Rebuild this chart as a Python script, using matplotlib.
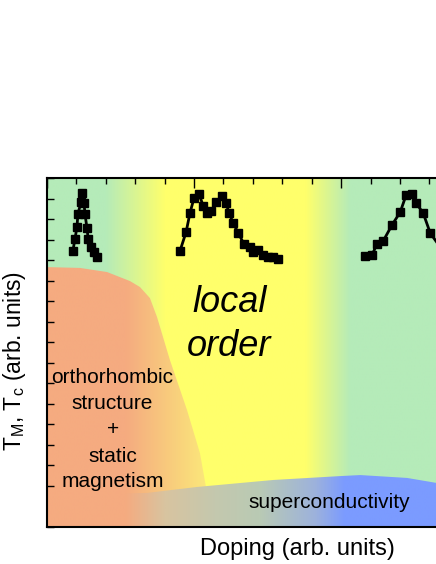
import numpy as np
import matplotlib
matplotlib.use("Agg")
import matplotlib.pyplot as plt
from matplotlib.colors import LinearSegmentedColormap
from matplotlib.patches import Polygon
from matplotlib.ticker import MultipleLocator

plt.rcParams['font.family'] = ['Liberation Sans', 'DejaVu Sans']

# ---- data (arb. units) ----
peak1_x = [0.88, 0.95, 1.02, 1.05, 1.16, 1.19, 1.26, 1.29, 1.36, 1.40, 1.50, 1.60, 1.70]
peak1_y = [13.44, 14.03, 14.61, 15.25, 15.83, 16.27, 15.78, 15.25, 14.56, 14.03, 13.64, 13.40, 13.15]

peak2_x = [4.52, 4.73, 4.86, 5.00, 5.17, 5.31, 5.44, 5.58, 5.75, 5.95, 6.09, 6.19, 6.33,
           6.50, 6.70, 6.90, 7.01, 7.18, 7.35, 7.52, 7.69, 7.86]
peak2_y = [13.44, 14.37, 15.29, 16.03, 16.22, 15.64, 15.29, 15.39, 15.83, 16.12, 15.78, 15.29, 14.81,
           14.32, 13.78, 13.64, 13.40, 13.49, 13.25, 13.15, 13.15, 13.05]

peak3_x = [10.82, 11.05, 11.22, 11.43, 11.73, 12.01, 12.21, 12.41, 12.55, 12.79, 13.03, 13.44]
peak3_y = [13.20, 13.25, 13.78, 13.93, 14.71, 15.34, 16.17, 16.22, 15.78, 15.29, 14.32, 13.49]

ortho_x = [0.0, 1.12, 2.04, 2.82, 3.16, 3.50, 3.74, 4.18, 4.76, 5.20, 5.44, 5.61]
ortho_y = [12.66, 12.62, 12.42, 11.98, 11.69, 11.15, 10.23, 8.13, 5.70, 3.60, 1.66, 0.0]

sc_x = [0.0, 3.40, 5.10, 7.69, 9.97, 10.65, 12.24, 13.27, 17.0]
sc_y = [1.56, 1.66, 1.95, 2.29, 2.48, 2.53, 2.39, 2.14, 1.56]

ortho_lines = ['orthorhombic', 'structure', '+', 'static', 'magnetism']

XMAX, YMAX = 17, 17

green = '#b5ebb9'
yellow = '#ffff6b'
orange = '#f5ab80'
blue = '#7b9bff'

bg_stops = [(0, green), (1.97, green), (4.0, yellow), (8.78, yellow), (10.3, green), (17, green)]
ortho_stops = [(0, orange), (2.65, orange), (5.3, '#fbe57a'), (17, '#fbe57a')]
sc_stops = [(0, orange), (2.65, orange), (4.0, '#d8c4a0'), (5.7, '#c4c8ae'), (7.2, '#b9cab4'),
            (9.1, '#9db2dc'), (10.1, blue), (17, blue)]

fig = plt.figure(figsize=(4.36, 5.64), dpi=100)
ax = fig.add_axes([47/436, 37/564, 500/436, 349/564])
ax.set_xlim(0, XMAX)
ax.set_ylim(0, YMAX)


def gradient(stops, z, clip=None):
    cmap = LinearSegmentedColormap.from_list('g', [(p / XMAX, c) for p, c in stops])
    img = ax.imshow(np.linspace(0, 1, 1024)[None, :], cmap=cmap, extent=[0, XMAX, 0, YMAX],
                    aspect='auto', origin='lower', zorder=z, interpolation='bilinear')
    if clip is not None:
        ax.add_patch(clip)
        img.set_clip_path(clip)
    return img


gradient(bg_stops, 0)
ortho_poly = Polygon([(0, 0)] + list(zip(ortho_x, ortho_y)), closed=True,
                     facecolor='none', edgecolor='none', transform=ax.transData)
gradient(ortho_stops, 1, ortho_poly)
sc_poly = Polygon([(0, 0)] + list(zip(sc_x, sc_y)) + [(XMAX, 0)], closed=True,
                  facecolor='none', edgecolor='none', transform=ax.transData)
gradient(sc_stops, 2, sc_poly)

for px, py in [(peak1_x, peak1_y), (peak2_x, peak2_y), (peak3_x, peak3_y)]:
    ax.plot(px, py, color='black', lw=2.0, marker='s', ms=6, zorder=5, clip_on=True)

ax.text(6.21, 10.47, 'local', style='italic', fontsize=26, ha='center', va='baseline', zorder=6)
ax.text(6.20, 8.33, 'order', style='italic', fontsize=26, ha='center', va='baseline', zorder=6)
for label, yb in zip(ortho_lines, [7.01, 5.75, 4.50, 3.17, 1.95]):
    ax.text(2.23, yb, label, fontsize=15, ha='center', va='baseline', zorder=6)
ax.text(9.59, 0.93, 'superconductivity', fontsize=15, ha='center', va='baseline', zorder=6)

ax.set_xlabel('Doping (arb. units)', fontsize=17, labelpad=8)
ax.set_ylabel(r'T$_\mathregular{M}$, T$_\mathregular{c}$ (arb. units)', fontsize=16.5)
ax.yaxis.set_label_coords(-0.038, 0.476)

ax.xaxis.set_major_locator(MultipleLocator(5))
ax.xaxis.set_minor_locator(MultipleLocator(1))
ax.yaxis.set_major_locator(MultipleLocator(1))
ax.tick_params(axis='both', which='both', direction='in', top=True, right=True,
               labelbottom=False, labelleft=False, width=1)
ax.tick_params(axis='x', which='major', length=7)
ax.tick_params(axis='x', which='minor', length=4)
ax.tick_params(axis='y', which='major', length=5)
for s in ax.spines.values():
    s.set_linewidth(1.5)
    s.set_zorder(7)

fig.savefig('out.png', dpi=100)
